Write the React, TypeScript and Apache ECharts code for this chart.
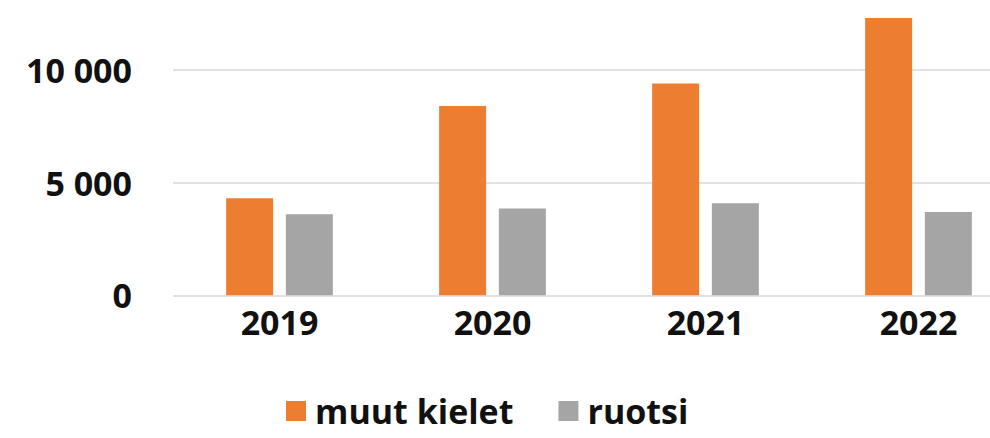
import React, { useEffect, useRef } from "react";
import * as echarts from "echarts";

const years = ["2019", "2020", "2021", "2022"];
const muutKielet = [4300, 8400, 9400, 12300];
const ruotsi = [3600, 3850, 4080, 3700];
const seriesNames = ["muut kielet", "ruotsi"];

const FONT = "'Open Sans', 'Noto Sans', sans-serif";

export default function App() {
  const ref = useRef<HTMLDivElement>(null);
  useEffect(() => {
    if (!ref.current) return;
    const chart = echarts.init(ref.current, null, { renderer: "svg" });
    chart.setOption({
      animation: false,
      backgroundColor: "#ffffff",
      grid: {
        left: 173,
        top: 13.5,
        width: 852,
        height: 281.8,
        outerBoundsMode: "none",
        containLabel: false,
      },
      legend: {
        data: seriesNames,
        left: 281,
        top: 389,
        icon: "rect",
        itemWidth: 20,
        itemHeight: 20,
        itemGap: 45,
        textStyle: {
          fontFamily: FONT,
          fontWeight: "bold",
          fontSize: 34,
          color: "#111",
          padding: [0, 0, 0, 4],
        },
      },
      xAxis: {
        type: "category",
        data: years,
        axisLine: { show: false },
        axisTick: { show: false },
        axisLabel: {
          margin: 10,
          fontFamily: FONT,
          fontWeight: "bold",
          fontSize: 34,
          color: "#111",
        },
      },
      yAxis: {
        type: "value",
        min: 0,
        max: 12500,
        interval: 2500,
        axisLine: { show: false },
        axisTick: { show: false },
        splitLine: {
          lineStyle: { color: ["#D9D9D9", "rgba(0,0,0,0)"], width: 1.5 },
        },
        axisLabel: {
          margin: 41,
          fontFamily: FONT,
          fontWeight: "bold",
          fontSize: 34,
          color: "#111",
          formatter: (v: number) =>
            v % 5000 === 0 ? String(v).replace(/\B(?=(\d{3})+(?!\d))/g, " ") : "",
        },
      },
      series: [
        {
          name: seriesNames[0],
          type: "bar",
          data: muutKielet,
          barWidth: 47,
          barGap: "27%",
          itemStyle: { color: "#ED7D31" },
        },
        {
          name: seriesNames[1],
          type: "bar",
          data: ruotsi,
          barWidth: 47,
          itemStyle: { color: "#A5A5A5" },
        },
      ],
    });
    return () => chart.dispose();
  }, []);
  return (
    <div
      ref={ref}
      style={{ position: "fixed", left: 0, top: 0, width: 990, height: 438, background: "#fff" }}
    />
  );
}
